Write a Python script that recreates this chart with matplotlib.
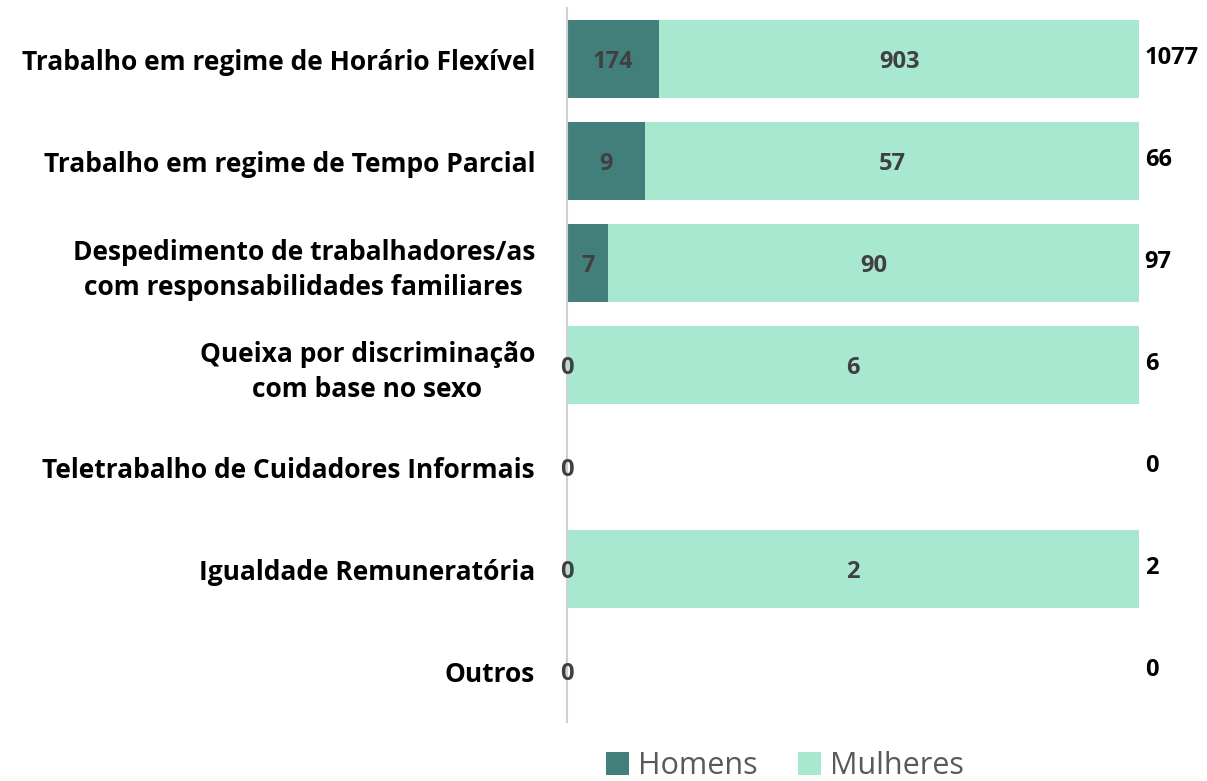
import matplotlib.pyplot as plt

plt.rcParams['font.family'] = ['Open Sans', 'DejaVu Sans']

# Data
categories = [
    "Trabalho em regime de Horário Flexível",
    "Trabalho em regime de Tempo Parcial",
    "Despedimento de trabalhadores/as\ncom responsabilidades familiares",
    "Queixa por discriminação\ncom base no sexo",
    "Teletrabalho de Cuidadores Informais",
    "Igualdade Remuneratória",
    "Outros",
]
homens = [174, 9, 7, 0, 0, 0, 0]
mulheres = [903, 57, 90, 6, 0, 2, 0]
totais = [h + m for h, m in zip(homens, mulheres)]

c_h = "#437f7a"
c_m = "#a8e8d0"
lbl_color = "#404040"

fig = plt.figure(figsize=(12.07, 7.81), dpi=100)
ax = fig.add_axes([567 / 1207, 1 - 722 / 781, (1139 - 567) / 1207, (722 - 8) / 781])

ys = list(range(len(categories)))
p_h = [h / t if t else 0 for h, t in zip(homens, totais)]
p_m = [m / t if t else 0 for m, t in zip(mulheres, totais)]

ax.barh(ys, p_h, height=0.76, color=c_h, label="Homens")
ax.barh(ys, p_m, left=p_h, height=0.76, color=c_m, label="Mulheres")

ax.set_xlim(0, 1)
ax.set_ylim(len(categories) - 0.5, -0.5)

for y, h, m, ph, pm, t in zip(ys, homens, mulheres, p_h, p_m, totais):
    # homens label
    xh = ph / 2 if h else 0
    ax.text(xh, y + 0.03, str(h), ha="center", va="center", fontsize=17,
            fontweight="bold", color=lbl_color)
    if m:
        ax.text(ph + pm / 2, y + 0.03, str(m), ha="center", va="center",
                fontsize=17, fontweight="bold", color=lbl_color)
    ax.text(1.01, y - 0.01, str(t), ha="left", va="center", fontsize=17,
            fontweight="bold", color="black")

ax.set_yticks(ys)
ax.set_yticklabels(categories, fontsize=19, fontweight="bold", ha="right",
                   multialignment="center", linespacing=1.4)
ax.tick_params(axis="y", length=0, pad=23)
ax.set_xticks([])
for s in ["top", "right", "bottom"]:
    ax.spines[s].set_visible(False)
ax.spines["left"].set_color("#d0d0d0")
ax.spines["left"].set_linewidth(1.5)

fig.legend(loc="center", bbox_to_anchor=(785 / 1207, 1 - 766 / 781), ncol=2,
           frameon=False, fontsize=22, labelcolor="#595959", handlelength=0.75,
           handleheight=0.75, handletextpad=0.3, columnspacing=1.3)

fig.savefig("out.png", dpi=100)
